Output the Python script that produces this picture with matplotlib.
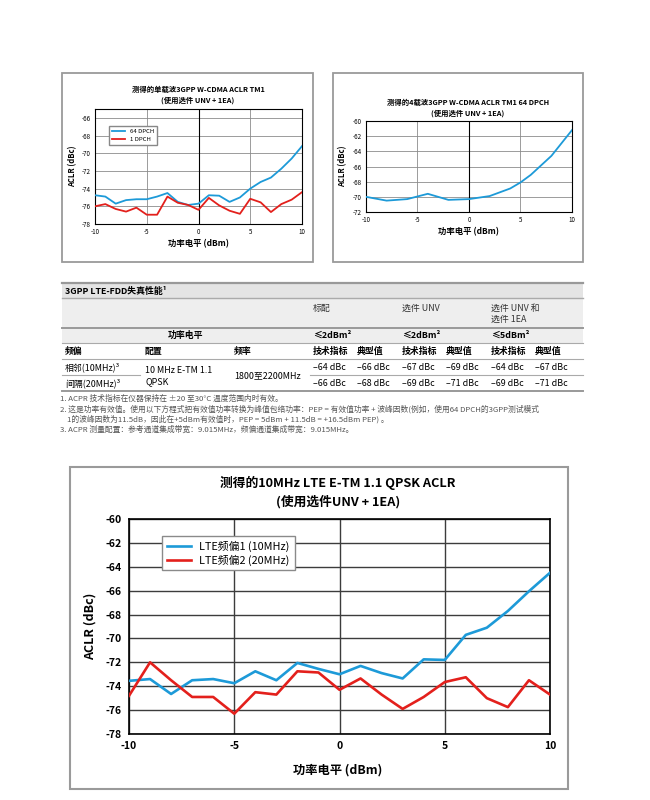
import matplotlib.pyplot as plt
from matplotlib.patches import Rectangle
from matplotlib.lines import Line2D

plt.rcParams['font.family'] = ['Noto Sans CJK SC', 'DejaVu Sans']
plt.rcParams['axes.unicode_minus'] = False

W, H = 650, 800

# ---- data ----
pwr = list(range(-10, 11))
# single carrier W-CDMA TM1
wcdma_64dpch = [-74.75, -74.9, -75.7, -75.3, -75.2, -75.2, -74.9, -74.5, -75.5, -75.85, -75.7,
                -74.75, -74.8, -75.5, -75.0, -74.0, -73.25, -72.75, -71.75, -70.6, -69.2]
wcdma_1dpch = [-76.0, -75.75, -76.3, -76.6, -76.15, -76.95, -76.95, -74.9, -75.6, -75.85, -76.4,
               -75.05, -75.9, -76.5, -76.85, -75.15, -75.55, -76.65, -75.75, -75.25, -74.4]
# 4 carrier W-CDMA TM1 64 DPCH
pwr4 = [-10, -8, -6, -4, -2, 0, 2, 4, 5, 6, 8, 10]
wcdma4_64dpch = [-70.0, -70.5, -70.3, -69.6, -70.4, -70.3, -69.9, -68.9, -68.1, -67.1, -64.6, -61.2]
# LTE E-TM 1.1 QPSK
lte_off1 = [-73.55, -73.4, -74.65, -73.5, -73.4, -73.75, -72.75, -73.5, -72.05, -72.55, -73.0,
            -72.3, -72.9, -73.35, -71.75, -71.8, -69.7, -69.1, -67.7, -66.05, -64.5]
lte_off2 = [-74.8, -72.0, -73.5, -74.9, -74.9, -76.3, -74.5, -74.7, -72.75, -72.85, -74.3,
            -73.35, -74.7, -75.9, -74.9, -73.65, -73.25, -75.0, -75.75, -73.5, -74.7]

# table
groups = ['标配', '选件 UNV', '选件 UNV 和\n选件 1EA']
power_limits = ['≤2dBm²', '≤2dBm²', '≤5dBm²']
offsets = ['相邻(10MHz)³', '间隔(20MHz)³']
spec_adj = ['–64 dBc', '–67 dBc', '–64 dBc']
typ_adj = ['–66 dBc', '–69 dBc', '–67 dBc']
spec_alt = ['–66 dBc', '–69 dBc', '–69 dBc']
typ_alt = ['–68 dBc', '–71 dBc', '–71 dBc']

notes = [
    '1. ACPR 技术指标在仪器保持在 ±20 至30°C 温度范围内时有效。',
    '2. 这是功率有效值。使用以下方程式把有效值功率转换为峰值包络功率：PEP = 有效值功率 + 波峰因数(例如，使用64 DPCH的3GPP测试模式',
    '    1的波峰因数为11.5dB，因此在+5dBm有效值时，PEP = 5dBm + 11.5dB = +16.5dBm PEP) 。',
    '3. ACPR 测量配置：参考通道集成带宽：9.015MHz，频偏通道集成带宽：9.015MHz。',
]

BLUE = '#1d9ad8'
RED = '#e3201c'

fig = plt.figure(figsize=(6.5, 8), dpi=100)


def rect(l, t, r, b):
    return [l / W, 1 - b / H, (r - l) / W, (b - t) / H]


def box(l, t, r, b, **kw):
    fig.patches.append(Rectangle((l / W, 1 - b / H), (r - l) / W, (b - t) / H,
                                 transform=fig.transFigure, **kw))


def hline(y, x0, x1, **kw):
    fig.add_artist(Line2D([x0 / W, x1 / W], [1 - y / H, 1 - y / H], transform=fig.transFigure, **kw))


def txt(x, y, s, **kw):
    kw.setdefault('va', 'center')
    fig.text(x / W, 1 - y / H, s, **kw)


# frames round the charts
box(62, 73, 313, 262, fill=False, ec='#9a9a9a', lw=1.3)
box(333, 73, 583, 262, fill=False, ec='#9a9a9a', lw=1.3)
box(70, 467, 568, 789, fill=False, ec='#9a9a9a', lw=1.5)


def small_chart(pos, x, series, ylim, yticks):
    ax = fig.add_axes(rect(*pos))
    for y, c, lab in series:
        ax.plot(x, y, color=c, lw=1.3, label=lab, zorder=3)
    ax.set_xlim(-10, 10)
    ax.set_ylim(*ylim)
    ax.set_xticks([-10, -5, 0, 5, 10])
    ax.set_yticks(yticks)
    ax.grid(color='#8c8c8c', lw=0.6)
    ax.axvline(0, color='k', lw=0.8, zorder=2)
    ax.tick_params(length=0, labelsize=4.5, pad=3)
    for s in ax.spines.values():
        s.set_linewidth(0.8)
    return ax


ax1 = small_chart((95, 109, 302, 224), pwr,
                  [(wcdma_64dpch, BLUE, '64 DPCH'), (wcdma_1dpch, RED, '1 DPCH')],
                  (-78, -65), range(-78, -65, 2))
ax1.legend(loc='upper left', bbox_to_anchor=(109 / W, 1 - 126 / H), bbox_transform=fig.transFigure,
           fontsize=4.3, frameon=True, fancybox=False, edgecolor='#888', framealpha=1,
           handlelength=2.2, borderpad=0.5, labelspacing=0.4, borderaxespad=0)
txt(198, 95, '测得的单载波3GPP W-CDMA ACLR TM1\n(使用选件 UNV + 1EA)', ha='center',
    fontsize=5.3, weight='bold', linespacing=1.6)
txt(73, 166, 'ACLR (dBc)', ha='center', rotation=90, fontsize=5.5, weight='bold')
txt(198, 244, '功率电平 (dBm)', ha='center', fontsize=6, weight='bold')

ax2 = small_chart((366, 121, 572, 212), pwr4, [(wcdma4_64dpch, BLUE, '64 DPCH')],
                  (-72, -60), range(-72, -59, 2))
txt(468, 108, '测得的4载波3GPP W-CDMA ACLR TM1 64 DPCH\n(使用选件 UNV + 1EA)', ha='center',
    fontsize=5.3, weight='bold', linespacing=1.5)
txt(343, 166, 'ACLR (dBc)', ha='center', rotation=90, fontsize=5.5, weight='bold')
txt(468, 232, '功率电平 (dBm)', ha='center', fontsize=6, weight='bold')

# ---- table ----
TL, TR = 62, 583
box(TL, 283, TR, 298, fc='#e4e4e4', ec='none')
box(TL, 298, TR, 343, fc='#eeeeee', ec='none')
hline(283, TL, TR, color='#999999', lw=1.6)
hline(298, TL, TR, color='#aaaaaa', lw=1.0)
hline(327.5, TL, TR, color='#999999', lw=1.4)
hline(343, TL, TR, color='#aaaaaa', lw=0.8)
hline(359, TL, TR, color='#aaaaaa', lw=0.8)
hline(375, TL, 140, color='#aaaaaa', lw=0.8)
hline(375, 310, TR, color='#aaaaaa', lw=0.8)
hline(391, TL, TR, color='#999999', lw=1.4)

tfs = 6.4
txt(65, 291, '3GPP LTE-FDD失真性能¹', fontsize=tfs, weight='bold')
gx = [313, 402, 491]
for x, g, p in zip(gx, groups, power_limits):
    txt(x, 308 if '\n' not in g else 314, g, fontsize=tfs, color='#333', linespacing=1.3)
    txt(x, 335.5, p, fontsize=tfs, weight='bold')
txt(185, 335.5, '功率电平', ha='center', fontsize=tfs, weight='bold')
txt(65, 351.5, '频偏', fontsize=tfs, weight='bold')
txt(145, 351.5, '配置', fontsize=tfs, weight='bold')
txt(234, 351.5, '频率', fontsize=tfs, weight='bold')
for x in gx:
    txt(x, 351.5, '技术指标', fontsize=tfs, weight='bold')
    txt(x + 44, 351.5, '典型值', fontsize=tfs, weight='bold')
txt(65, 367.5, offsets[0], fontsize=tfs)
txt(65, 383.5, offsets[1], fontsize=tfs)
txt(145, 376, '10 MHz E-TM 1.1\nQPSK', fontsize=tfs, linespacing=1.25)
txt(234, 376, '1800至2200MHz', fontsize=tfs)
for i, x in enumerate(gx):
    txt(x, 367.5, spec_adj[i], fontsize=tfs)
    txt(x + 44, 367.5, typ_adj[i], fontsize=tfs)
    txt(x, 384, spec_alt[i], fontsize=tfs)
    txt(x + 44, 384, typ_alt[i], fontsize=tfs)

for i, n in enumerate(notes):
    txt(60, 399 + 10.3 * i, n, fontsize=5.6, color='#555555')

# ---- big LTE chart ----
ax = fig.add_axes(rect(129, 519, 550, 734))
ax.plot(pwr, lte_off1, color=BLUE, lw=1.9, label='LTE频偏1 (10MHz)', zorder=3)
ax.plot(pwr, lte_off2, color=RED, lw=1.9, label='LTE频偏2 (20MHz)', zorder=3)
ax.set_xlim(-10, 10)
ax.set_ylim(-78, -60)
ax.set_xticks([-10, -5, 0, 5, 10])
ax.set_yticks(range(-78, -59, 2))
ax.grid(color='#3c3c3c', lw=1.0)
ax.tick_params(length=0, labelsize=7.5, pad=5)
for lab in ax.get_xticklabels() + ax.get_yticklabels():
    lab.set_fontweight('bold')
for s in ax.spines.values():
    s.set_linewidth(1.2)
ax.legend(loc='upper left', bbox_to_anchor=(162 / W, 1 - 536 / H), bbox_transform=fig.transFigure,
          fontsize=7.8, frameon=True, fancybox=False, edgecolor='#8a8a8a', framealpha=1,
          handlelength=2.2, borderpad=0.45, labelspacing=0.2, borderaxespad=0)
txt(338, 492, '测得的10MHz LTE E-TM 1.1 QPSK ACLR\n(使用选件UNV + 1EA)', ha='center',
    fontsize=9.2, weight='bold', linespacing=1.45)
txt(90, 626, 'ACLR (dBc)', ha='center', rotation=90, fontsize=9, weight='bold')
txt(338, 770, '功率电平 (dBm)', ha='center', fontsize=8.8, weight='bold')

fig.savefig('out.png', dpi=100, facecolor='white')
